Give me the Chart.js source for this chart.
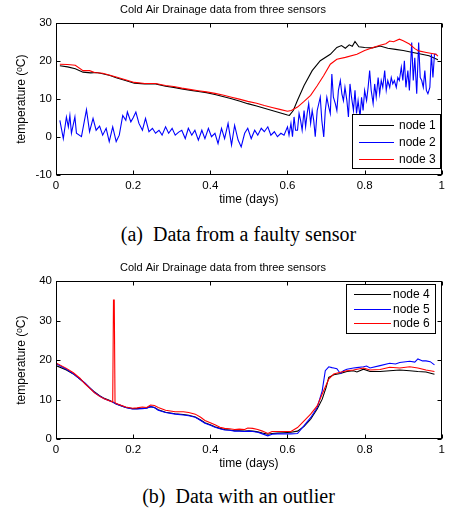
<!DOCTYPE html>
<html><head><meta charset="utf-8">
<script src="https://cdn.jsdelivr.net/npm/chart.js@4"></script>
<style>
html,body{margin:0;padding:0;background:#fff;}
body{width:449px;height:511px;position:relative;overflow:hidden;}
canvas{position:absolute;left:0;}
#c1{top:0}
#c2{top:258px}
.cap{position:absolute;left:0;width:477px;text-align:center;font-family:'Liberation Serif','Times New Roman',serif;font-size:20px;line-height:20px;color:#000;white-space:pre;}
</style></head><body>
<canvas id="c1" width="449" height="210"></canvas>
<div class="cap" style="top:224px">(a)  Data from a faulty sensor</div>
<canvas id="c2" width="449" height="216"></canvas>
<div class="cap" style="top:486px">(b)  Data with an outlier</div>
<script>
// ---------- DATA ----------
const chartTitle = 'Cold Air Drainage data from three sensors';
const xTitle = 'time (days)';
const yTitle = 'temperature (\u1D52C)';
const labelsA = ['node 1','node 2','node 3'];
const labelsB = ['node 4','node 5','node 6'];

// [time (days), temperature (C)]
const node1 = [[0.01,18.8],[0.03,18.5],[0.05,18.0],[0.07,17.1],[0.09,16.9],[0.105,17.0],[0.121,16.7],[0.14,16.2],[0.156,15.6],[0.18,14.9],[0.203,14.2],[0.23,14.0],[0.258,14.0],[0.284,13.4],[0.305,13.1],[0.326,12.7],[0.35,12.3],[0.369,12.0],[0.39,11.7],[0.412,11.2],[0.435,10.6],[0.455,10.1],[0.475,9.5],[0.497,8.8],[0.52,8.2],[0.54,7.6],[0.56,7.0],[0.58,6.4],[0.60,5.8],[0.605,5.7],[0.615,7.0],[0.626,9.7],[0.643,13.6],[0.664,17.5],[0.685,20.1],[0.711,21.8],[0.728,23.6],[0.74,24.1],[0.75,23.4],[0.76,24.3],[0.768,23.9],[0.775,25.2],[0.785,23.8],[0.80,23.6],[0.82,23.5],[0.84,24.0],[0.86,23.4],[0.88,23.1],[0.90,22.8],[0.925,22.3],[0.945,21.9],[0.967,21.4],[0.99,20.4]];

const node2 = [[0.010,4.4],[0.019,-0.4],[0.027,5.3],[0.032,2.7],[0.036,5.7],[0.040,1.0],[0.049,5.3],[0.053,1.0],[0.066,0.1],[0.079,7.2],[0.087,1.4],[0.096,4.9],[0.104,1.8],[0.113,2.9],[0.121,0.5],[0.130,2.3],[0.138,-1.2],[0.147,2.7],[0.156,-1.2],[0.164,0.5],[0.173,5.7],[0.181,4.4],[0.185,6.6],[0.194,4.0],[0.200,5.1],[0.207,6.6],[0.215,3.6],[0.224,1.8],[0.232,4.9],[0.241,1.4],[0.250,2.3],[0.258,1.0],[0.267,1.8],[0.275,0.5],[0.284,2.7],[0.292,1.0],[0.301,2.3],[0.309,0.5],[0.318,1.3],[0.326,1.8],[0.335,-0.4],[0.343,2.3],[0.352,0.5],[0.360,1.8],[0.369,-0.8],[0.378,1.8],[0.386,-0.4],[0.395,2.3],[0.403,0.1],[0.412,1.0],[0.420,-1.7],[0.429,2.3],[0.437,-0.4],[0.446,3.6],[0.455,-2.1],[0.463,3.1],[0.472,-0.8],[0.480,-2.6],[0.489,1.0],[0.497,2.3],[0.506,-0.4],[0.515,1.8],[0.523,0.5],[0.532,2.3],[0.540,1.4],[0.549,2.7],[0.557,0.5],[0.566,1.4],[0.574,0.1],[0.583,1.0],[0.591,0.5],[0.600,2.7],[0.604,0.5],[0.609,3.6],[0.613,0.1],[0.617,5.3],[0.621,1.8],[0.626,1.8],[0.630,6.2],[0.634,4.4],[0.638,1.8],[0.643,7.0],[0.647,2.7],[0.651,6.2],[0.655,8.8],[0.660,3.6],[0.664,7.0],[0.668,4.4],[0.672,0.1],[0.677,7.0],[0.685,10.5],[0.689,4.4],[0.694,0.0],[0.698,7.0],[0.702,10.5],[0.707,7.9],[0.711,6.2],[0.715,16.6],[0.719,10.5],[0.724,8.8],[0.728,7.0],[0.732,12.3],[0.737,14.9],[0.741,11.4],[0.745,9.6],[0.749,13.1],[0.754,9.6],[0.758,5.3],[0.762,14.0],[0.766,10.5],[0.771,7.0],[0.775,12.3],[0.779,6.2],[0.783,9.6],[0.788,5.3],[0.792,10.5],[0.796,7.0],[0.800,12.3],[0.805,9.6],[0.809,13.1],[0.813,17.5],[0.817,12.3],[0.822,8.8],[0.826,14.0],[0.830,10.5],[0.835,15.7],[0.839,11.4],[0.843,14.9],[0.847,13.1],[0.852,17.5],[0.856,12.3],[0.860,14.9],[0.865,13.1],[0.869,15.7],[0.873,14.0],[0.877,14.9],[0.882,13.1],[0.886,15.7],[0.890,14.9],[0.895,18.4],[0.899,14.9],[0.903,20.1],[0.907,13.1],[0.912,17.5],[0.916,12.3],[0.922,24.9],[0.926,14.9],[0.930,20.9],[0.935,11.4],[0.940,24.9],[0.944,15.7],[0.948,14.9],[0.952,13.1],[0.956,17.5],[0.960,12.3],[0.964,11.4],[0.969,13.1],[0.973,21.8],[0.977,15.7],[0.981,21.8],[0.986,21.8]];

const node3 = [[0.01,19.2],[0.03,19.1],[0.05,18.9],[0.07,17.5],[0.087,17.5],[0.1,17.0],[0.121,16.8],[0.14,16.3],[0.156,15.8],[0.18,15.1],[0.203,14.4],[0.23,14.1],[0.258,14.1],[0.284,13.6],[0.305,13.3],[0.326,12.9],[0.35,12.5],[0.369,12.2],[0.39,11.9],[0.412,11.5],[0.435,11.0],[0.455,10.5],[0.475,10.0],[0.497,9.4],[0.52,8.9],[0.54,8.3],[0.56,7.8],[0.58,7.3],[0.60,6.8],[0.61,7.0],[0.626,7.9],[0.643,9.4],[0.66,11.0],[0.677,13.5],[0.694,16.2],[0.711,19.2],[0.728,20.5],[0.75,21.0],[0.78,21.8],[0.80,22.8],[0.822,23.6],[0.84,24.2],[0.855,24.6],[0.865,25.3],[0.875,25.1],[0.89,25.8],[0.90,25.4],[0.916,24.5],[0.93,23.3],[0.94,22.7],[0.96,22.3],[0.985,21.8],[0.99,21.3]];

const node4 = [[0.0,18.6],[0.027,17.5],[0.045,16.5],[0.062,15.2],[0.075,14.1],[0.087,13.0],[0.1,11.9],[0.113,11.0],[0.125,10.3],[0.138,9.8],[0.147,9.4],[0.156,8.9],[0.17,8.4],[0.181,8.0],[0.198,7.7],[0.21,7.7],[0.224,7.8],[0.235,7.9],[0.245,8.2],[0.255,8.0],[0.265,7.4],[0.284,6.8],[0.309,6.4],[0.33,6.2],[0.344,6.0],[0.361,5.6],[0.375,4.8],[0.386,4.1],[0.40,3.6],[0.412,3.1],[0.425,2.7],[0.437,2.4],[0.45,2.3],[0.463,2.1],[0.475,2.1],[0.489,2.0],[0.50,2.1],[0.51,2.0],[0.523,1.8],[0.535,1.5],[0.549,1.2],[0.56,1.4],[0.574,1.5],[0.59,1.6],[0.609,1.7],[0.626,2.0],[0.643,3.2],[0.66,5.0],[0.677,7.6],[0.69,10.1],[0.70,13.0],[0.707,15.6],[0.72,16.3],[0.737,16.6],[0.754,17.1],[0.771,17.3],[0.78,17.0],[0.797,17.7],[0.814,17.1],[0.84,17.1],[0.865,17.3],[0.891,17.5],[0.917,17.3],[0.938,17.1],[0.959,17.0],[0.981,16.4]];

const node5 = [[0.0,19.1],[0.027,17.7],[0.045,16.5],[0.062,15.2],[0.075,14.2],[0.087,13.0],[0.1,11.8],[0.113,10.9],[0.125,10.2],[0.138,9.7],[0.147,9.4],[0.156,8.9],[0.17,8.4],[0.181,8.0],[0.198,7.6],[0.21,7.6],[0.224,7.7],[0.235,7.8],[0.245,8.2],[0.255,8.0],[0.265,7.3],[0.284,6.7],[0.309,6.3],[0.33,6.1],[0.344,5.9],[0.361,5.5],[0.375,4.7],[0.386,4.0],[0.40,3.5],[0.412,3.0],[0.425,2.6],[0.437,2.3],[0.45,2.2],[0.463,2.0],[0.475,2.0],[0.489,1.9],[0.50,2.0],[0.51,1.9],[0.523,1.7],[0.535,1.3],[0.549,0.8],[0.56,1.2],[0.574,1.3],[0.59,1.3],[0.609,1.3],[0.626,1.4],[0.643,3.4],[0.66,5.4],[0.677,8.0],[0.69,12.2],[0.698,17.3],[0.707,18.3],[0.715,18.1],[0.72,18.0],[0.728,17.8],[0.737,16.6],[0.745,17.3],[0.754,17.7],[0.771,18.0],[0.78,18.1],[0.797,18.3],[0.805,18.5],[0.814,18.0],[0.84,18.6],[0.865,19.2],[0.88,19.0],[0.891,19.4],[0.917,19.7],[0.93,19.5],[0.938,20.3],[0.95,19.8],[0.959,19.8],[0.97,19.6],[0.981,18.8]];

const node6 = [[0.0,19.3],[0.027,17.9],[0.045,16.8],[0.062,15.4],[0.075,14.0],[0.087,12.9],[0.1,11.7],[0.113,10.8],[0.125,10.2],[0.138,9.7],[0.147,9.4],[0.149,35.2],[0.151,35.2],[0.153,9.2],[0.156,9.0],[0.17,8.5],[0.181,8.1],[0.198,7.8],[0.21,7.9],[0.224,8.1],[0.235,8.0],[0.245,8.6],[0.255,8.5],[0.265,8.0],[0.284,7.3],[0.309,6.9],[0.33,6.9],[0.344,6.7],[0.361,6.3],[0.375,5.5],[0.386,4.7],[0.40,4.1],[0.412,3.6],[0.425,3.0],[0.437,2.7],[0.45,2.6],[0.463,2.4],[0.475,2.5],[0.489,2.4],[0.497,2.8],[0.51,2.7],[0.523,2.4],[0.535,2.0],[0.549,1.4],[0.56,1.9],[0.574,1.9],[0.59,1.9],[0.609,1.9],[0.626,2.9],[0.643,4.6],[0.66,6.3],[0.677,8.4],[0.69,11.4],[0.707,15.2],[0.72,16.5],[0.737,16.9],[0.754,17.3],[0.771,17.5],[0.797,18.0],[0.814,17.5],[0.84,17.6],[0.865,18.2],[0.891,18.0],[0.917,18.3],[0.938,18.0],[0.959,17.5],[0.981,17.1]];

// ---------- RENDERING ----------
const FONT = "'Liberation Sans', Arial, Helvetica, sans-serif";
const COLORS = ['#000000', '#0000ff', '#ff0000'];
Chart.defaults.color = '#000';

const frame = {
  id: 'frame',
  afterDraw(chart) {
    const {ctx, chartArea: a, scales: {x, y}} = chart;
    const L = Math.round(a.left) + 0.5, R = Math.round(a.right) - 0.5;
    const T = Math.round(a.top) + 0.5, B = Math.round(a.bottom) - 0.5;
    const len = 4;
    ctx.save();
    ctx.strokeStyle = '#000';
    ctx.lineWidth = 1;
    ctx.strokeRect(L, T, R - L, B - T);
    ctx.beginPath();
    x.ticks.forEach(t => {
      const px = Math.round(x.getPixelForValue(t.value)) + 0.5;
      ctx.moveTo(px, B); ctx.lineTo(px, B - len);
      ctx.moveTo(px, T); ctx.lineTo(px, T + len);
    });
    y.ticks.forEach(t => {
      const py = Math.round(y.getPixelForValue(t.value)) + 0.5;
      ctx.moveTo(L, py); ctx.lineTo(L + len, py);
      ctx.moveTo(R, py); ctx.lineTo(R - len, py);
    });
    ctx.stroke();
    ctx.restore();
  }
};

const boxLegend = {
  id: 'boxLegend',
  afterDraw(chart, args, o) {
    const {ctx, chartArea: a} = chart;
    const left = Math.round(a.right - o.right - o.width);
    const top = Math.round(o.anchor === 'bottom' ? a.bottom - o.bottom - o.height : a.top + o.top);
    ctx.save();
    ctx.fillStyle = '#fff';
    ctx.fillRect(left, top, o.width, o.height);
    ctx.strokeStyle = '#000';
    ctx.lineWidth = 1;
    ctx.strokeRect(left + 0.5, top + 0.5, o.width, o.height);
    ctx.font = '12px ' + FONT;
    ctx.textBaseline = 'middle';
    ctx.textAlign = 'left';
    chart.data.datasets.forEach((ds, i) => {
      const yy = Math.round(top + o.firstRow + i * o.rowGap) + 0.5;
      ctx.beginPath();
      ctx.strokeStyle = COLORS[i];
      ctx.lineWidth = 1.2;
      ctx.moveTo(left + o.lineStart, yy);
      ctx.lineTo(left + o.lineEnd, yy);
      ctx.stroke();
      ctx.fillStyle = '#000';
      ctx.fillText(ds.label, left + o.textX, yy);
    });
    ctx.restore();
  }
};

function makeChart(id, series, labels, ymin, ymax, legendOpts) {
  return new Chart(document.getElementById(id), {
    type: 'line',
    data: {
      datasets: series.map((s, i) => ({
        label: labels[i],
        data: s.map(p => ({x: p[0], y: p[1]})),
        borderColor: COLORS[i],
        borderWidth: 1.1,
        pointRadius: 0,
        tension: 0,
        fill: false,
        order: 3 - i
      }))
    },
    options: {
      responsive: false,
      animation: false,
      devicePixelRatio: 1,
      layout: {padding: {left: 0, right: 3, top: 0, bottom: 0}},
      plugins: {
        legend: {display: false},
        tooltip: {enabled: false},
        title: {display: true, text: chartTitle, color: '#000',
                font: {family: FONT, size: 11, weight: 'normal'},
                padding: {top: 3, bottom: 7}},
        boxLegend: legendOpts
      },
      scales: {
        x: {
          type: 'linear', min: 0, max: 1,
          grid: {display: false, drawTicks: false}, border: {display: false},
          ticks: {stepSize: 0.2, font: {family: FONT, size: 11.5}, color: '#000', padding: 4, maxRotation: 0, autoSkip: false,
                  callback: v => String(Number(v.toFixed(2)))},
          title: {display: true, text: xTitle, color: '#000', font: {family: FONT, size: 12}, padding: {top: 0, bottom: 3}},
          afterFit(s) { s.height = 35; }
        },
        y: {
          type: 'linear', min: ymin, max: ymax,
          grid: {display: false, drawTicks: false}, border: {display: false},
          ticks: {stepSize: 10, font: {family: FONT, size: 11.5}, color: '#000', padding: 4},
          title: {display: true, text: yTitle, color: '#000', font: {family: FONT, size: 12}, padding: {top: 14, bottom: 0}},
          afterFit(s) { s.width = 56; }
        }
      }
    },
    plugins: [frame, boxLegend]
  });
}

makeChart('c1', [node1, node2, node3], labelsA, -10, 30,
  {anchor: 'bottom', right: 2, bottom: 7, width: 88, height: 54, firstRow: 11, rowGap: 17, lineStart: 7, lineEnd: 42, textX: 47});
makeChart('c2', [node4, node5, node6], labelsB, 0, 40,
  {anchor: 'top', right: 7, top: 3, width: 89, height: 49, firstRow: 10, rowGap: 14.5, lineStart: 8, lineEnd: 45, textX: 47});
</script>
</body></html>
